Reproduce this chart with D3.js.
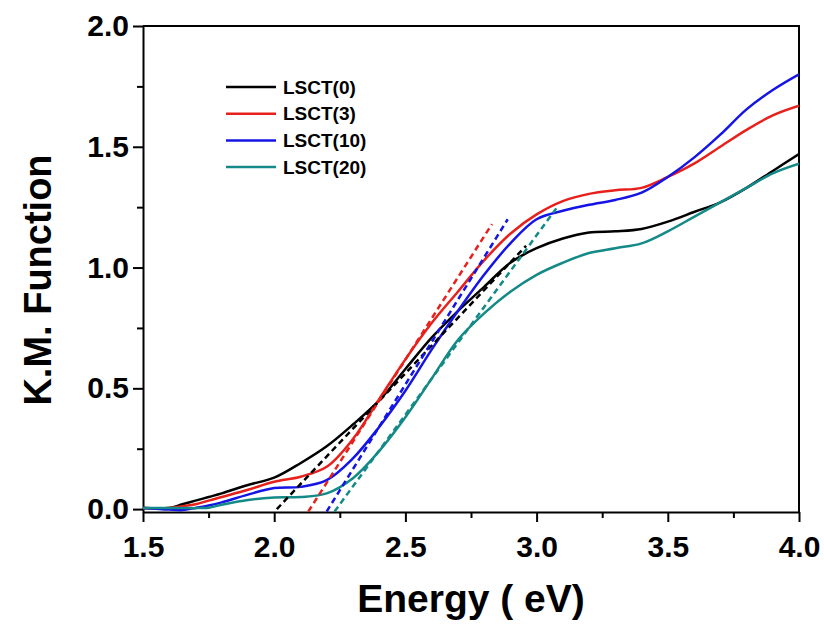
<!DOCTYPE html>
<html>
<head>
<meta charset="utf-8">
<script src="https://cdn.jsdelivr.net/npm/d3@7"></script>
<style>
  body { margin: 0; background: #fff; }
  svg text { font-family: "Liberation Sans", Arial, sans-serif; font-weight: bold; fill: #000; }
</style>
</head>
<body>
<svg id="chart" width="824" height="624"></svg>
<script>
// energy grid (eV) shared by all spectra
var energy = [1.5, 1.6, 1.65, 1.7, 1.75, 1.8, 1.9, 2.0, 2.1, 2.2, 2.3, 2.4, 2.5, 2.6, 2.7,
              2.8, 2.9, 3.0, 3.1, 3.2, 3.3, 3.4, 3.5, 3.6, 3.7, 3.8, 3.9, 4.0];

var lsct0  = [0.005, 0.005, 0.02, 0.035, 0.05, 0.065, 0.10, 0.13, 0.19, 0.26, 0.35, 0.45, 0.58, 0.71, 0.82,
              0.92, 1.02, 1.08, 1.12, 1.145, 1.15, 1.16, 1.19, 1.23, 1.27, 1.33, 1.40, 1.47];
var lsct3  = [0.005, 0.005, 0.012, 0.02, 0.035, 0.05, 0.08, 0.113, 0.134, 0.175, 0.29, 0.455, 0.62, 0.77, 0.90,
              1.03, 1.14, 1.22, 1.275, 1.305, 1.32, 1.33, 1.375, 1.43, 1.50, 1.57, 1.63, 1.67];
var lsct10 = [0.005, -0.002, -0.004, 0.005, 0.015, 0.028, 0.06, 0.087, 0.092, 0.12, 0.21, 0.34, 0.49, 0.66, 0.82,
              0.97, 1.10, 1.20, 1.235, 1.26, 1.28, 1.31, 1.375, 1.455, 1.55, 1.655, 1.735, 1.80];
var lsct20 = [0.005, 0.005, 0.005, 0.004, 0.006, 0.018, 0.038, 0.048, 0.05, 0.065, 0.128, 0.24, 0.38, 0.54, 0.70,
              0.81, 0.90, 0.97, 1.02, 1.06, 1.08, 1.10, 1.15, 1.21, 1.27, 1.33, 1.39, 1.43];

// linear fits (band-gap extrapolation), [start, end] as [eV, KM]
var fit0  = [[2.01, 0.0], [2.96, 1.09]];
var fit3  = [[2.13, -0.01], [2.83, 1.18]];
var fit10 = [[2.20, -0.01], [2.89, 1.20]];
var fit20 = [[2.23, -0.01], [3.075, 1.245]];

var names  = ["LSCT(0)", "LSCT(3)", "LSCT(10)", "LSCT(20)"];
var colors = ["#000000", "#e8201c", "#1414e6", "#148a88"];

var xTicks = [1.5, 2.0, 2.5, 3.0, 3.5, 4.0];
var yTicks = [0.0, 0.5, 1.0, 1.5, 2.0];

var series = [lsct0, lsct3, lsct10, lsct20];
var fits = [fit0, fit3, fit10, fit20];

var svg = d3.select("#chart");

var x = d3.scaleLinear().domain([1.5, 4.0]).range([143, 799]);
var y = d3.scaleLinear().domain([-0.012, 2.0]).range([512, 26]);

// minor ticks first
var xMinor = d3.range(1.75, 4.0, 0.5);
var yMinor = d3.range(0.25, 2.0, 0.5);

svg.append("g")
    .attr("transform", "translate(0,512)")
    .call(d3.axisBottom(x).tickValues(xMinor).tickSize(6).tickFormat(""))
    .call(g => g.select(".domain").remove())
    .selectAll("line").attr("stroke-width", 2);

svg.append("g")
    .attr("transform", "translate(143,0)")
    .call(d3.axisLeft(y).tickValues(yMinor).tickSize(6).tickFormat(""))
    .call(g => g.select(".domain").remove())
    .selectAll("line").attr("stroke-width", 2);

// major axes
var xAxis = svg.append("g")
    .attr("transform", "translate(0,512)")
    .call(d3.axisBottom(x).tickValues(xTicks).tickSize(10).tickSizeOuter(0).tickFormat(d3.format(".1f")));
xAxis.select(".domain").attr("stroke-width", 2);
xAxis.selectAll("line").attr("stroke-width", 2);
xAxis.selectAll("text").attr("font-size", 30).attr("dy", "1.05em");

var yAxis = svg.append("g")
    .attr("transform", "translate(143,0)")
    .call(d3.axisLeft(y).tickValues(yTicks).tickSize(10).tickSizeOuter(0).tickFormat(d3.format(".1f")));
yAxis.select(".domain").attr("stroke-width", 2);
yAxis.selectAll("line").attr("stroke-width", 2);
yAxis.selectAll("text").attr("font-size", 30).attr("x", -14);

// top and right frame
svg.append("path")
    .attr("d", "M143," + y(2.0) + "H" + x(4.0) + "V" + y(-0.012))
    .attr("fill", "none")
    .attr("stroke", "#000")
    .attr("stroke-width", 2);

svg.append("defs").append("clipPath").attr("id", "plotclip")
  .append("rect").attr("x", 143).attr("y", 26).attr("width", 656).attr("height", 486);

var line = d3.line()
    .x(function(d) { return x(d[0]); })
    .y(function(d) { return y(d[1]); })
    .curve(d3.curveCatmullRom.alpha(0.5));

var plot = svg.append("g").attr("clip-path", "url(#plotclip)");

plot.selectAll("path.curve")
    .data(series)
  .enter().append("path")
    .attr("class", "curve")
    .attr("fill", "none")
    .attr("stroke", function(d, i) { return colors[i]; })
    .attr("stroke-width", 2.5)
    .attr("d", function(vals) { return line(energy.map(function(e, j) { return [e, vals[j]]; })); });

plot.selectAll("path.fit")
    .data(fits)
  .enter().append("path")
    .attr("class", "fit")
    .attr("fill", "none")
    .attr("stroke", function(d, i) { return colors[i]; })
    .attr("stroke-width", 2.5)
    .attr("stroke-dasharray", "6,4")
    .attr("d", d3.line().x(d => x(d[0])).y(d => y(d[1])));

// legend
var legend = svg.selectAll("g.legend")
    .data(names)
  .enter().append("g")
    .attr("class", "legend")
    .attr("transform", function(d, i) { return "translate(226," + (87 + i * 26.7) + ")"; });

legend.append("line")
    .attr("x1", 0).attr("x2", 50)
    .attr("stroke", function(d, i) { return colors[i]; })
    .attr("stroke-width", 2.5);

legend.append("text")
    .attr("x", 57)
    .attr("dy", "0.35em")
    .attr("font-size", 19)
    .text(function(d) { return d; });

// axis titles
svg.append("text")
    .attr("x", 471)
    .attr("y", 612)
    .attr("text-anchor", "middle")
    .attr("font-size", 39)
    .text("Energy ( eV)");

svg.append("text")
    .attr("transform", "translate(51,280) rotate(-90)")
    .attr("text-anchor", "middle")
    .attr("font-size", 38)
    .text("K.M. Function");
</script>
</body>
</html>
